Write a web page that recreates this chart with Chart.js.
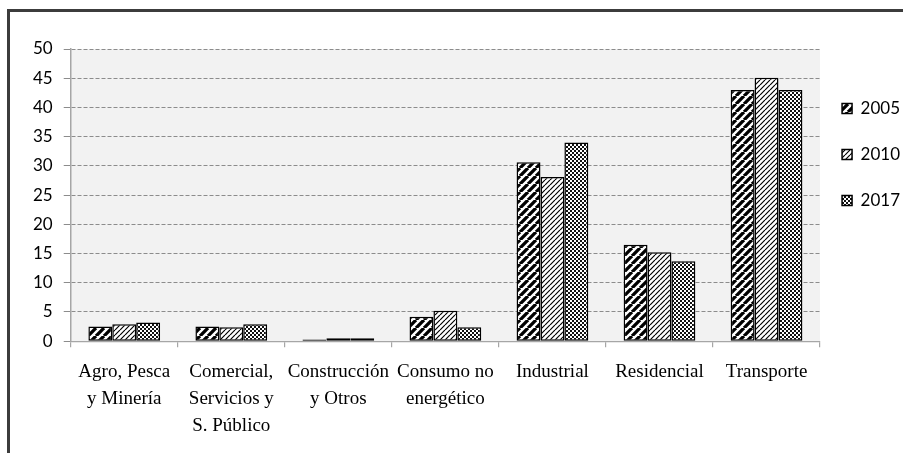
<!DOCTYPE html>
<html>
<head>
<meta charset="utf-8">
<script src="https://cdn.jsdelivr.net/npm/chart.js@4"></script>
<style>
  html, body { margin: 0; padding: 0; background: #fff; }
  #wrap { position: relative; width: 903px; height: 453px; overflow: hidden; }
  #frame { position: absolute; left: 7px; top: 9px; width: 1000px; height: 1000px;
           border-left: 3px solid #3c3c3c; border-top: 3px solid #3c3c3c; }
  #chart { position: absolute; left: 0; top: 0; }
</style>
</head>
<body>
<div id="wrap">
  <div id="frame"></div>
  <canvas id="chart" width="903" height="453"></canvas>
</div>
<script>
const categories = [
  ["Agro, Pesca", "y Minería"],
  ["Comercial,", "Servicios y", "S. Público"],
  ["Construcción", "y Otros"],
  ["Consumo no", "energético"],
  "Industrial",
  "Residencial",
  "Transporte"
];
const years = ["2005", "2010", "2017"];
const v2005 = [2.5, 2.5, 0.3, 4.2, 30.6, 16.5, 43.0];
const v2010 = [2.9, 2.4, 0.5, 5.2, 28.1, 15.2, 45.1];
const v2017 = [3.2, 2.9, 0.5, 2.4, 34.0, 13.7, 43.0];
const yTicks = { min: 0, max: 50, step: 5 };

const ctx = document.getElementById("chart").getContext("2d");

function stripes(period, width) {
  const c = document.createElement("canvas");
  c.width = c.height = period;
  const g = c.getContext("2d");
  g.fillStyle = "#fff";
  g.fillRect(0, 0, period, period);
  g.strokeStyle = "#000";
  g.lineWidth = width;
  g.beginPath();
  for (let k = -1; k <= 1; k++) {
    g.moveTo(k * period, period);
    g.lineTo(k * period + period, 0);
  }
  g.stroke();
  return ctx.createPattern(c, "repeat");
}

function checker() {
  const c = document.createElement("canvas");
  c.width = c.height = 4;
  const g = c.getContext("2d");
  g.fillStyle = "#fff";
  g.fillRect(0, 0, 4, 4);
  g.fillStyle = "#111";
  g.fillRect(0, 0, 2, 2);
  g.fillRect(2, 2, 2, 2);
  return ctx.createPattern(c, "repeat");
}

const fills = [stripes(8, 3.3), stripes(5, 1.2), checker()];

const plotBg = {
  id: "plotBg",
  beforeDraw(chart) {
    const a = chart.chartArea;
    chart.ctx.save();
    chart.ctx.fillStyle = "#f2f2f2";
    chart.ctx.fillRect(a.left, a.top, a.right - a.left, a.bottom - a.top);
    chart.ctx.restore();
  }
};

const series = [v2005, v2010, v2017];

new Chart(ctx, {
  type: "bar",
  data: {
    labels: categories,
    datasets: series.map((d, i) => ({
      label: years[i],
      data: d,
      backgroundColor: fills[i],
      borderColor: "#000",
      borderWidth: 1.5,
      borderSkipped: false,
      categoryPercentage: 0.67,
      barPercentage: 1.0
    }))
  },
  options: {
    responsive: false,
    animation: false,
    layout: { padding: { top: 49, left: 22, right: -7, bottom: 2 } },
    plugins: {
      tooltip: { enabled: false },
      legend: {
        position: "right",
        align: "start",
        title: { display: true, text: "", font: { size: 1, lineHeight: 1 }, padding: { top: 28, bottom: 0 } },
        labels: {
          boxWidth: 10,
          boxHeight: 10,
          padding: 22,
          color: "#000",
          font: { family: "Lato", size: 17, lineHeight: 24 / 17 },
          // array text so each row takes the font line height
          generateLabels: chart =>
            Chart.defaults.plugins.legend.labels.generateLabels(chart)
              .map(l => Object.assign(l, { text: [l.text] }))
        }
      }
    },
    scales: {
      x: {
        grid: {
          offset: true,
          drawOnChartArea: false,
          tickLength: 6,
          color: "#a6a6a6",
          lineWidth: 1.2
        },
        border: { color: "#a6a6a6", width: 1.2 },
        ticks: {
          color: "#000",
          padding: 12,
          maxRotation: 0,
          autoSkip: false,
          font: { family: "Liberation Serif", size: 19, lineHeight: 1.4 }
        }
      },
      y: {
        min: yTicks.min,
        max: yTicks.max,
        grid: {
          color: "#8c8c8c",
          lineWidth: 1,
          tickLength: 7,
          tickColor: "#8c8c8c",
          tickBorderDash: []
        },
        border: { color: "#a6a6a6", width: 1.5, dash: [4, 2] },
        ticks: {
          stepSize: yTicks.step,
          color: "#000",
          padding: 11,
          font: { family: "Lato", size: 17 }
        }
      }
    }
  },
  plugins: [plotBg]
});
</script>
</body>
</html>
